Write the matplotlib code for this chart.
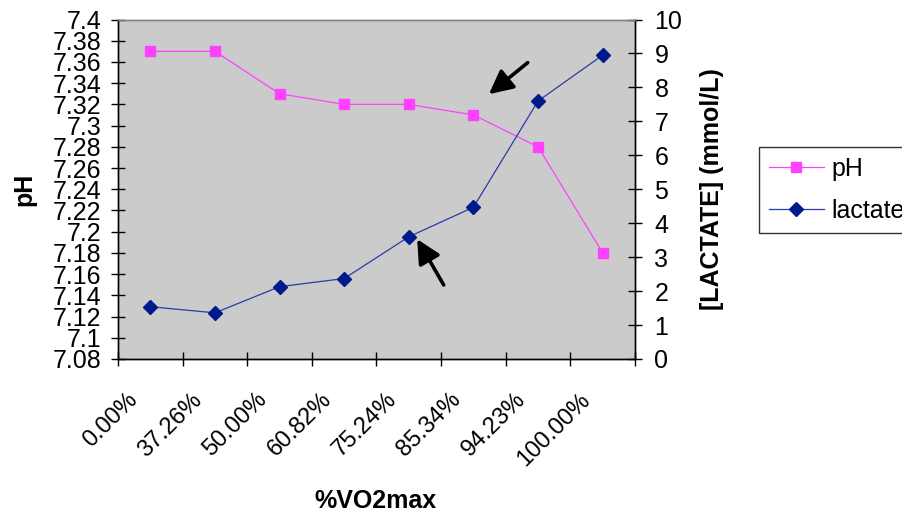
import matplotlib
matplotlib.use("Agg")
import matplotlib.pyplot as plt
from matplotlib.transforms import ScaledTranslation
from matplotlib.patches import FancyArrowPatch

plt.rcParams['font.family'] = ['Liberation Sans', 'DejaVu Sans']

# %VO2max stages
categories = ["0.00%", "37.26%", "50.00%", "60.82%", "75.24%", "85.34%", "94.23%", "100.00%"]
ph_values = [7.37, 7.37, 7.33, 7.32, 7.32, 7.31, 7.28, 7.18]
lactate_values = [1.54, 1.36, 2.13, 2.37, 3.60, 4.47, 7.60, 8.95]
ph_ticks = [7.08, 7.10, 7.12, 7.14, 7.16, 7.18, 7.20, 7.22, 7.24, 7.26,
            7.28, 7.30, 7.32, 7.34, 7.36, 7.38, 7.40]
lactate_ticks = list(range(0, 11))

PINK = "#ff40ff"
NAVY = "#001a8c"
LINE_BLUE = "#2a3ca8"
FS = 18
FS_CAT = 17

fig = plt.figure(figsize=(9.03, 5.18), dpi=100)
ax = fig.add_axes([118 / 903, 1 - 359 / 518, (635 - 118) / 903, (359 - 19.5) / 518])
ax.set_facecolor("#cbcbcb")
ax2 = ax.twinx()

x = list(range(len(categories)))
l1, = ax.plot(x, ph_values, color=PINK, lw=0.9, marker="s", ms=7.5,
              mfc=PINK, mec=PINK, label="pH", zorder=3)
l2, = ax2.plot(x, lactate_values, color=LINE_BLUE, lw=0.9, marker="D", ms=7.5,
               mfc=NAVY, mec=NAVY, label="lactate", zorder=3)

ax.set_xlim(-0.5, len(categories) - 0.5)
ax.set_ylim(7.08, 7.40)
ax2.set_ylim(0, 10)

# left axis (pH)
ax.set_yticks(ph_ticks)
ax.set_yticklabels([f"{v:g}" for v in ph_ticks], fontsize=FS)
ax.tick_params(axis="y", direction="inout", length=10, width=1, pad=7)

# right axis (lactate)
ax2.set_yticks(lactate_ticks)
ax2.set_yticklabels([str(v) for v in lactate_ticks], fontsize=FS)
ax2.tick_params(axis="y", direction="inout", length=10, width=1, pad=9)

# category axis: ticks between categories, labels at centres
ax.set_xticks([i - 0.5 for i in range(len(categories) + 1)])
ax.set_xticklabels([])
ax.tick_params(axis="x", which="major", direction="inout", length=10, width=1)
ax.set_xticks(x, minor=True)
ax.set_xticklabels(categories, minor=True, fontsize=FS_CAT, rotation=45,
                   ha="right", va="center", rotation_mode="anchor")
ax.tick_params(axis="x", which="minor", length=0, pad=27)
shift = ScaledTranslation(-16 / 100, 0, fig.dpi_scale_trans)
for lab in ax.get_xticklabels(minor=True):
    lab.set_transform(lab.get_transform() + shift)

for a in (ax, ax2):
    a.spines["top"].set_color("#808080")
    a.spines["left"].set_color("black")
    a.spines["bottom"].set_color("black")
    a.spines["right"].set_color("black")
    for s in a.spines.values():
        s.set_linewidth(1)

ax.set_ylabel("pH", fontsize=FS, fontweight="bold", va="center")
ax.yaxis.set_label_coords(-0.181, 0.5)
ax2.set_ylabel("[LACTATE] (mmol/L)", fontsize=FS, fontweight="bold", va="center")
ax2.yaxis.set_label_coords(1.149, 0.5)
ax.set_xlabel("%VO2max", fontsize=FS, fontweight="bold", va="center")
ax.xaxis.set_label_coords(0.497, -0.418)

# annotation arrows
for tail, head in [((5.84, 8.73), (5.24, 7.80)), ((4.54, 2.18), (4.13, 3.53))]:
    arr = FancyArrowPatch(tail, head, transform=ax2.transData,
                          arrowstyle="-|>,head_length=9,head_width=4.5",
                          mutation_scale=1.6, lw=2.6, color="black",
                          shrinkA=0, shrinkB=0, zorder=5)
    ax2.add_patch(arr)

leg = fig.legend([l1, l2], ["pH", "lactate"], loc="upper left",
                 bbox_to_anchor=(759 / 903, 1 - 147 / 518),
                 bbox_transform=fig.transFigure, fontsize=FS,
                 frameon=True, fancybox=False, edgecolor="black",
                 handlelength=2.2, handletextpad=0.3, labelspacing=0.7,
                 borderpad=0.4, borderaxespad=0)
leg.get_frame().set_linewidth(1)
leg.get_frame().set_facecolor("white")

fig.savefig("out.png", dpi=100, facecolor="white")
